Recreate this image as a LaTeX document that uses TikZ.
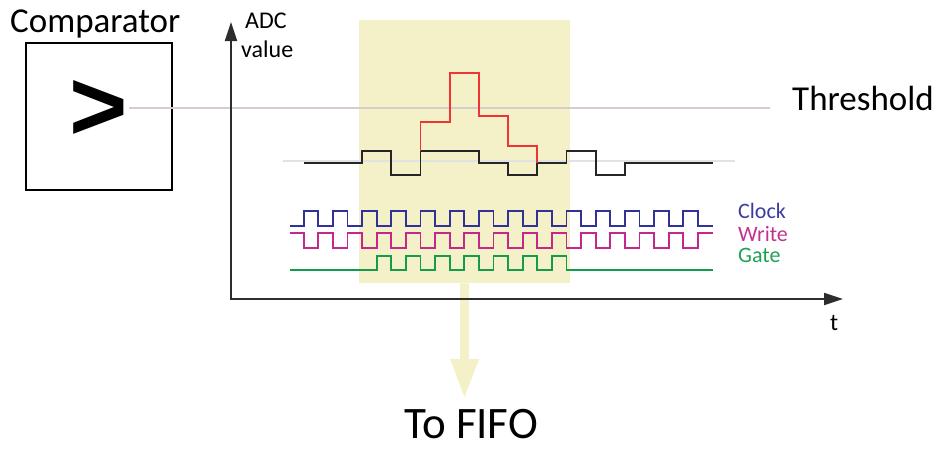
\documentclass[tikz,border=0pt]{standalone}
\usepackage{fontspec}
\setmainfont{Carlito}
\newfontfamily\glyphfont{Liberation Sans}
\usetikzlibrary{arrows.meta}

\definecolor{winyellow}{RGB}{244,240,200}
\definecolor{thrgrey}{RGB}{214,204,204}
\definecolor{basegrey}{RGB}{226,226,226}
\definecolor{axisgrey}{RGB}{45,45,45}
\definecolor{sigred}{RGB}{238,52,52}
\definecolor{clkblue}{RGB}{50,50,150}
\definecolor{wrmag}{RGB}{195,40,140}
\definecolor{gategreen}{RGB}{20,155,75}
\definecolor{clktext}{RGB}{60,60,160}
\definecolor{wrtext}{RGB}{195,50,145}
\definecolor{gatetext}{RGB}{30,160,85}

\begin{document}
\begin{tikzpicture}[x=1pt,y=-1pt,
  txt/.style={inner sep=0pt, anchor=base west},
  big/.style={font=\fontsize{35}{40}\selectfont},
  mid/.style={font=\fontsize{22}{26}\selectfont},
  axlabel/.style={font=\fontsize{24}{28}\selectfont},
  huge/.style={font=\fontsize{45}{50}\selectfont},
  axis/.style={draw=axisgrey, line width=1.8pt, -{Triangle[length=19pt,width=12pt]}},
  wave/.style={line width=1.8pt, line join=miter},
  fifoarrow/.style={draw=winyellow, line width=9pt, -{Triangle[length=40pt,width=26pt]}}
]
\useasboundingbox (0,0) rectangle (936,448);

% window of samples sent on to the FIFO
\node[fill=winyellow, inner sep=0pt, minimum width=211pt, minimum height=263pt,
      anchor=north west] (win) at (359,20) {};
\coordinate (fifotip) at (464.5,399);
\draw[fifoarrow] (win.south) -- (fifotip);
\node[txt, huge] (fifo) at (404,438) {To FIFO};

% comparator block
\node[draw=black, line width=1.5pt, minimum width=146pt, minimum height=147pt,
      inner sep=0pt] (comp) at (99,116.5) {};
\node[txt, big] (complabel) at (10,32) {Comparator};
\node[inner sep=0pt, font=\glyphfont\bfseries\fontsize{100}{100}\selectfont]
      (gt) at (99,110) {>};

% threshold level
\coordinate (thrstart) at (129,108);
\coordinate (thrend) at (770,108);
\draw[thrgrey, line width=1.6pt] (thrstart) -- (thrend);
\node[txt, big] (thrlabel) at (792,110.5) {Threshold};

% pedestal level of the ADC samples
\draw[basegrey, line width=1.6pt] (283,161) -- (735,161);

% ADC samples
\draw[wave, black!85] (304,163) -| (362,151) -| (391.2,175) -| (420.4,151)
  -| (478.8,163) -| (508,175) -| (537.2,163) -| (566.4,151) -| (595.6,175)
  -| (624.8,163) -- (713,163);
\draw[wave, sigred] (420.4,151) -- (420.4,122) -| (449.6,73) -| (478.8,116)
  -| (508,146) -| (537.2,163);

% clock, write and gate signals
\draw[wave, clkblue] (290,226)
  foreach \k in {0,...,13} {
    -- ({303.6+29.2*\k},226) -- ({303.6+29.2*\k},211)
    -- ({318.2+29.2*\k},211) -- ({318.2+29.2*\k},226) }
  -- (713,226);
\draw[wave, wrmag] (290,233)
  foreach \k in {0,...,13} {
    -- ({303.6+29.2*\k},233) -- ({303.6+29.2*\k},248)
    -- ({318.2+29.2*\k},248) -- ({318.2+29.2*\k},233) }
  -- (713,233);
\draw[wave, gategreen] (290,270)
  foreach \k in {2,...,8} {
    -- ({318.2+29.2*\k},270) -- ({318.2+29.2*\k},256)
    -- ({332.8+29.2*\k},256) -- ({332.8+29.2*\k},270) }
  -- (713,270);

\node[txt, mid, text=clktext] (clk) at (738,218.5) {Clock};
\node[txt, mid, text=wrtext] (wr) at (738,241) {Write};
\node[txt, mid, text=gatetext] (gate) at (738,262) {Gate};

% axes
\coordinate (origin) at (231,299);
\coordinate (ytip) at (231,22);
\coordinate (xtip) at (843,299);
\draw[axis] (origin) -- (ytip);
\draw[axis] ([xshift=-0.9pt]origin) -- (xtip);
\node[txt, axlabel] (adc) at (245,28) {ADC};
\node[txt, axlabel] (val) at (241,57) {value};
\node[txt, axlabel] (tlabel) at (830,330) {t};
\end{tikzpicture}
\end{document}
